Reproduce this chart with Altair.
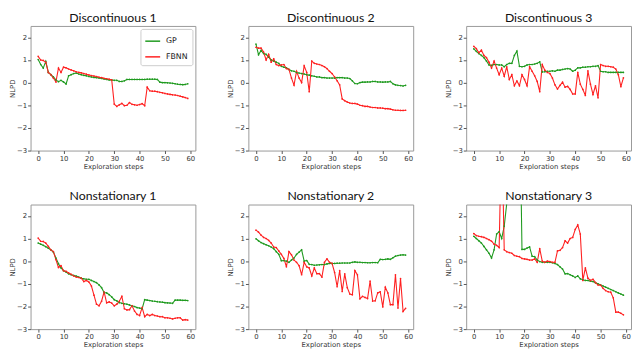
import altair as alt
import pandas as pd

steps = list(range(60))
methods = ["GP", "FBNN"]
colors = ["#1f9a1f", "#ff2020"]

titles = ["Discontinuous 1", "Discontinuous 2", "Discontinuous 3",
          "Nonstationary 1", "Nonstationary 2", "Nonstationary 3"]

x_ticks = [0, 10, 20, 30, 40, 50, 60]
y_ticks = [-3, -2, -1, 0, 1, 2]

d1_gp = [1.02, 0.8, 0.64, 0.94, 0.45, 0.35, 0.25, 0.12, 0.04, 0.1,
         0.03, -0.06, 0.3, 0.35, 0.4, 0.42, 0.38, 0.35, 0.32, 0.3,
         0.27, 0.25, 0.23, 0.22, 0.2, 0.18, 0.16, 0.14, 0.12, 0.11,
         0.1, 0.1, 0.05, 0.05, 0.08, 0.14, 0.14, 0.14, 0.14, 0.14,
         0.14, 0.14, 0.14, 0.15, 0.15, 0.15, 0.15, 0.14, 0.02, 0.0,
         0.0, -0.01, -0.02, -0.03, -0.05, -0.07, -0.08, -0.09, -0.08, -0.05]
d1_fbnn = [1.16, 1.0, 0.98, 0.9, 0.45, 0.35, 0.2, 0.03, 0.64, 0.45,
           0.68, 0.65, 0.6, 0.56, 0.52, 0.48, 0.45, 0.43, 0.4, 0.37,
           0.34, 0.31, 0.29, 0.27, 0.24, 0.22, 0.19, 0.17, 0.15, 0.12,
           -0.95, -1.05, -0.98, -0.92, -1.02, -1.0, -0.88, -0.96, -0.98, -1.0,
           -0.97, -0.93, -1.02, -0.2, -0.36, -0.38, -0.38, -0.4, -0.43, -0.45,
           -0.48, -0.5, -0.52, -0.54, -0.55, -0.57, -0.6, -0.63, -0.66, -0.7]

d2_gp = [1.7, 1.23, 1.42, 1.28, 1.25, 1.12, 1.0, 0.95, 0.9, 0.85,
         0.72, 0.68, 0.65, 0.58, 0.52, 0.5, 0.45, 0.42, 0.4, 0.38,
         0.35, 0.33, 0.3, 0.28, 0.25, 0.25, 0.22, 0.22, 0.2, 0.2,
         0.2, 0.2, 0.22, 0.22, 0.22, 0.2, 0.2, 0.18, 0.08, -0.04,
         -0.05, 0.0, 0.02, 0.02, 0.03, 0.03, 0.05, 0.05, 0.03, 0.03,
         0.02, 0.03, 0.03, 0.05, -0.05, -0.1, -0.12, -0.13, -0.15, -0.12]
d2_fbnn = [1.56, 1.52, 1.52, 1.35, 1.0, 1.25, 0.9, 1.05, 0.8, 0.75,
           0.78, 0.8, 0.62, 0.58, 0.2, -0.11, 0.5, 0.2, 0.0, 0.74,
           0.45, -0.4, 0.95, 0.85, 0.82, 0.8, 0.75, 0.7, 0.62, 0.5,
           0.4, 0.25, 0.08, -0.1, -0.72, -0.8, -0.86, -0.9, -0.92, -0.92,
           -0.95, -1.0, -1.02, -1.05, -1.05, -1.08, -1.1, -1.1, -1.12, -1.12,
           -1.13, -1.15, -1.15, -1.17, -1.2, -1.22, -1.22, -1.23, -1.23, -1.22]

d3_gp = [1.49, 1.38, 1.28, 1.2, 1.1, 0.95, 0.78, 0.76, 0.8, 0.8,
         0.78, 0.78, 0.7, 0.8, 0.85, 0.85, 1.2, 1.39, 0.72, 0.7,
         0.72, 0.78, 0.8, 0.8, 0.82, 0.85, 0.92, 0.47, 0.48, 0.5,
         0.5, 0.52, 0.5, 0.55, 0.55, 0.58, 0.6, 0.62, 0.6, 0.5,
         0.55, 0.65, 0.65, 0.68, 0.68, 0.7, 0.7, 0.72, 0.72, 0.75,
         0.5, 0.48, 0.48, 0.45, 0.45, 0.45, 0.45, 0.45, 0.45, 0.45]
d3_fbnn = [1.6, 1.5, 1.32, 1.43, 1.2, 1.1, 0.9, 0.64, 0.95, 0.64,
           0.35, 0.64, 0.28, 0.7, 0.14, 0.35, -0.14, 0.07, -0.14, 0.35,
           0.14, -0.14, 0.7, 0.5, 0.3, 0.05, -0.4, 0.8, 0.55, 0.45,
           0.4, 0.2, -0.1, -0.28, -0.12, 0.02, -0.2, -0.17, -0.3, -0.5,
           -0.5, 0.45, -0.07, -0.3, -0.57, 0.52, -0.07, -0.52, -0.14, -0.67,
           0.8, 0.75, 0.72, 0.72, 0.7, 0.68, 0.6, 0.35, -0.18, 0.21]

n1_gp = [0.8, 0.75, 0.7, 0.64, 0.57, 0.5, 0.4, 0.14, -0.11, -0.3,
         -0.42, -0.48, -0.56, -0.6, -0.63, -0.66, -0.7, -0.75, -0.78, -0.8,
         -0.8, -0.85, -0.9, -0.95, -1.05, -1.17, -1.38, -1.4, -1.48, -1.58,
         -1.7, -1.75, -1.83, -1.86, -1.88, -1.9, -1.93, -1.97, -2.0, -2.05,
         -2.07, -2.1, -1.7, -1.72, -1.74, -1.76, -1.77, -1.79, -1.8, -1.81,
         -1.83, -1.84, -1.85, -1.86, -1.72, -1.72, -1.72, -1.73, -1.73, -1.74]
n1_fbnn = [1.02, 0.88, 0.87, 0.8, 0.65, 0.5, 0.42, 0.07, -0.28, -0.2,
           -0.42, -0.45, -0.52, -0.58, -0.65, -0.7, -0.72, -0.75, -0.9, -0.85,
           -0.92, -1.1, -1.5, -1.9, -1.97, -1.77, -1.36, -1.84, -1.8, -1.85,
           -1.97, -1.9, -1.77, -1.55, -2.1, -2.15, -2.14, -1.97, -2.2, -2.35,
           -2.4, -2.05, -2.45, -2.35, -2.4, -2.35, -2.4, -2.42, -2.45, -2.45,
           -2.5, -2.5, -2.52, -2.55, -2.52, -2.5, -2.5, -2.6, -2.58, -2.6]

n2_gp = [0.99, 0.9, 0.82, 0.77, 0.72, 0.68, 0.62, 0.55, 0.42, 0.3,
         0.02, 0.03, 0.0, -0.05, 0.05, 0.14, 0.3, 0.4, 0.5, 0.0,
         0.03, -0.14, -0.15, -0.18, -0.17, -0.16, -0.15, -0.15, -0.12, -0.1,
         -0.1, -0.1, -0.09, -0.09, -0.08, -0.08, -0.08, -0.08, -0.05, -0.03,
         -0.05, -0.05, -0.06, -0.06, -0.07, -0.07, -0.06, -0.06, -0.07, 0.08,
         0.07, 0.08, 0.1, 0.08, 0.15, 0.22, 0.25, 0.27, 0.28, 0.27]
n2_fbnn = [1.37, 1.28, 1.15, 1.05, 1.0, 0.92, 0.8, 0.62, 0.6, 0.45,
           0.3, 0.12, -0.25, 0.42, 0.28, 0.05, -0.05, -0.2, -0.6, -0.05,
           -0.25, -0.3, -0.65, -0.3, -0.55, -0.55, -0.7, -0.05, 0.1, -0.05,
           -0.1, -0.5, -1.13, -0.42, -1.34, -0.56, -1.17, -1.45, -1.48, -0.42,
           -0.6, -1.66, -1.55, -1.6, -1.65, -0.88, -1.76, -1.75, -1.4, -1.35,
           -2.02, -1.15, -1.4, -1.92, -1.92, -0.6, -2.07, -0.77, -2.22, -2.08]

n3_gp = [1.1, 1.0, 0.9, 0.8, 0.65, 0.5, 0.35, 0.14, 0.5, 1.2,
         1.3, 1.0, 1.55, 2.55, 3.5, 4.2, 4.8, 5.5, 8.0, 0.52,
         0.52, 0.58, 0.63, 0.22, 0.2, 0.05, -0.02, -0.05, -0.05, -0.05,
         -0.05, -0.07, -0.1, -0.15, -0.25, -0.35, -0.56, -0.55, -0.6, -0.65,
         -0.72, -0.65, -0.78, -0.82, -0.85, -0.85, -0.88, -0.9, -0.95, -1.0,
         -1.05, -1.1, -1.15, -1.2, -1.25, -1.3, -1.35, -1.4, -1.45, -1.5]
n3_fbnn = [1.22, 1.13, 1.1, 1.08, 1.05, 1.0, 0.95, 0.88, 0.75, 0.7,
           0.6, 6.0, 0.5, 0.42, 0.38, 0.35, 0.25, 0.22, 0.2, 0.12,
           0.1, 0.08, 0.05, 0.05, 0.1, -0.05, 0.55, 0.0, -0.05, 0.0,
           -0.02, -0.05, -0.05, 0.45, 0.48, 0.6, 0.9, 0.8, 1.0, 1.05,
           1.4, 1.6, 1.2, -0.85, -0.3, -0.75, -0.85, -0.8, -0.95, -1.05,
           -1.06, -1.2, -1.3, -1.35, -1.37, -1.62, -2.25, -2.25, -2.3, -2.37]

series = [(d1_gp, d1_fbnn), (d2_gp, d2_fbnn), (d3_gp, d3_fbnn),
          (n1_gp, n1_fbnn), (n2_gp, n2_fbnn), (n3_gp, n3_fbnn)]

W, H = 168, 127

panels = []
for i, (title, (gp, fb)) in enumerate(zip(titles, series)):
    df = pd.DataFrame({
        "step": steps + steps,
        "value": gp + fb,
        "method": ["GP"] * len(gp) + ["FBNN"] * len(fb),
    })
    if i == 0:
        legend = alt.Legend(
            title=None, orient="top-right", offset=3,
            symbolType="stroke", symbolSize=230, symbolStrokeWidth=1.5,
            labelFont="DejaVu Sans", labelFontSize=8, labelColor="#222",
            fillColor="white", strokeColor="#cccccc", padding=4,
            cornerRadius=2, rowPadding=3, labelOffset=5,
        )
    else:
        legend = None
    ch = alt.Chart(df, title=title).mark_line(
        strokeWidth=1.1, clip=True,
        point=alt.OverlayMarkDef(size=3, filled=True, clip=True),
    ).encode(
        x=alt.X("step:Q", title="Exploration steps",
                scale=alt.Scale(domain=[-3, 62], nice=False, zero=False),
                axis=alt.Axis(values=x_ticks, format="d")),
        y=alt.Y("value:Q", title="NLPD",
                scale=alt.Scale(domain=[-3, 2.5], nice=False, zero=False),
                axis=alt.Axis(values=y_ticks, format="d")),
        color=alt.Color("method:N",
                        scale=alt.Scale(domain=methods, range=colors),
                        sort=methods, legend=legend),
        detail="method:N",
    ).properties(width=W, height=H)
    panels.append(ch)

chart = alt.concat(
    *panels, columns=3, spacing={"row": 20, "column": 30}
).resolve_scale(color="independent").properties(
    padding=0
).configure_view(
    stroke="#999999", strokeWidth=1
).configure_axis(
    domain=False, grid=False,
    labelFont="DejaVu Sans", labelFontSize=7, labelColor="#333333",
    labelPadding=1, tickSize=3, tickColor="#555555",
    titleFont="DejaVu Sans", titleFontSize=7, titleFontWeight="normal",
    titleColor="#333333", titlePadding=1,
).configure_title(
    font="Lato", fontSize=12.5, fontWeight="normal", color="#111111",
    offset=2, anchor="middle",
)

chart.save("out.html", embed_options={"renderer": "svg", "actions": False})
